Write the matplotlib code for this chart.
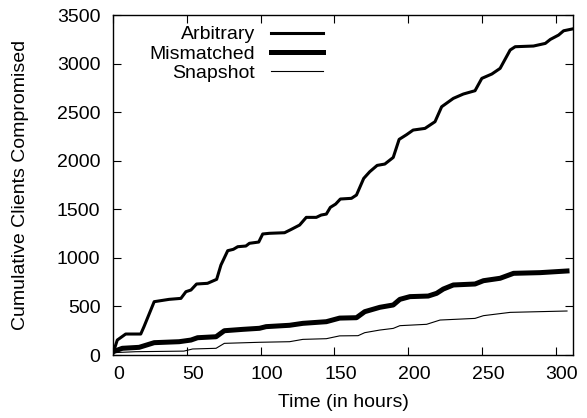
import matplotlib
matplotlib.use('Agg')
import matplotlib.pyplot as plt
import matplotlib.transforms as mtransforms

# values (hours, clients)
arb_t = [0, 2.9, 8.6, 18.8, 21, 27.9, 38, 46, 49.4, 52.8, 56.6, 64, 70.2, 73.1, 77.7,
         81.5, 84.5, 90, 92.4, 98.7, 101.4, 106, 116.2, 120.7, 126.4, 130.9, 137.7,
         141, 144.5, 147.2, 150.8, 154, 161.5, 164.9, 169.8, 173.9, 178.9, 184.1,
         189.8, 193.8, 198.8, 203.3, 211.3, 218.1, 222.6, 230.5, 237.3, 245.2,
         249.8, 256.6, 262.2, 269, 272.4, 284.8, 292.8, 296.2, 301.8, 305.2, 310.9]
arb_v = [17, 154, 216, 216, 292, 549, 573, 583, 652, 669, 731, 738, 779, 926, 1074,
         1088, 1115, 1122, 1150, 1163, 1246, 1253, 1259, 1293, 1338, 1417, 1417,
         1441, 1451, 1520, 1554, 1606, 1613, 1647, 1818, 1887, 1952, 1966,
         2034, 2220, 2268, 2316, 2333, 2402, 2556, 2642, 2687, 2721,
         2848, 2893, 2951, 3140, 3174, 3181, 3208, 3249, 3294, 3338, 3356]

mis_t = [0, 6.3, 17.7, 27.9, 44.8, 52.8, 57.3, 69.8, 75.4, 87.8, 99.2, 103.7, 119.6,
         128.6, 144.5, 153.5, 164.9, 170.5, 180.7, 189.8, 194.3, 201.1, 213.5, 219.2,
         223.7, 230.5, 245.2, 250.9, 262.2, 271.3, 289.4, 307.5]
mis_v = [34, 69, 79, 127, 137, 154, 178, 188, 250, 264, 275, 292, 306,
         326, 343, 380, 384, 446, 491, 515, 573, 601, 607, 635,
         679, 721, 731, 765, 790, 841, 848, 865]

snap_t = [0, 15.4, 48, 53.9, 69.8, 75.4, 99.2, 119.6, 128.6, 144.5, 153.5, 166, 170.5,
          180.7, 189.8, 194.3, 212.4, 221.5, 245.2, 250.9, 269, 307.5]
snap_v = [24, 34, 40, 62, 69, 120, 131, 137, 161, 168, 197, 199, 230,
          257, 274, 302, 316, 360, 377, 405, 439, 453]

fs = 14
plt.rcParams['font.family'] = 'Liberation Sans'
plt.rcParams['font.size'] = fs

fig = plt.figure(figsize=(5.87, 4.18), dpi=100)
ax = fig.add_axes([0.1925, 0.1507, 0.976 - 0.1925, 0.964 - 0.1507])

ax.plot(arb_t, arb_v, color='black', lw=2.2, label='Arbitrary', solid_joinstyle='round')
ax.plot(mis_t, mis_v, color='black', lw=3.6, label='Mismatched', solid_joinstyle='round')
ax.plot(snap_t, snap_v, color='black', lw=0.8, label='Snapshot', solid_joinstyle='round')

ax.set_xlim(0, 311.5)
ax.set_ylim(0, 3500)
ax.set_xticks(range(0, 301, 50))
ax.set_yticks(range(0, 3501, 500))
ax.tick_params(direction='in', top=True, right=True, length=6, width=0.8,
               labelsize=fs)
ax.tick_params(axis='y', pad=9)
ax.tick_params(axis='x', pad=8)
for s in ax.spines.values():
    s.set_linewidth(1.0)

# gnuplot put the x labels a few pixels right of their ticks
off = mtransforms.ScaledTranslation(0.06, 0, fig.dpi_scale_trans)
for lab in ax.get_xticklabels():
    lab.set_transform(lab.get_transform() + off)

ax.set_xlabel('Time (in hours)', fontsize=fs, labelpad=8)
ax.set_ylabel('Cumulative Clients Compromised', fontsize=fs, labelpad=20)

ax.legend(loc='upper right', bbox_to_anchor=(0.48, 1.0), frameon=False,
          markerfirst=False, handlelength=2.7, handletextpad=0.8,
          labelspacing=0.08, fontsize=fs, borderaxespad=0.15)

fig.savefig('out.png', dpi=100)
